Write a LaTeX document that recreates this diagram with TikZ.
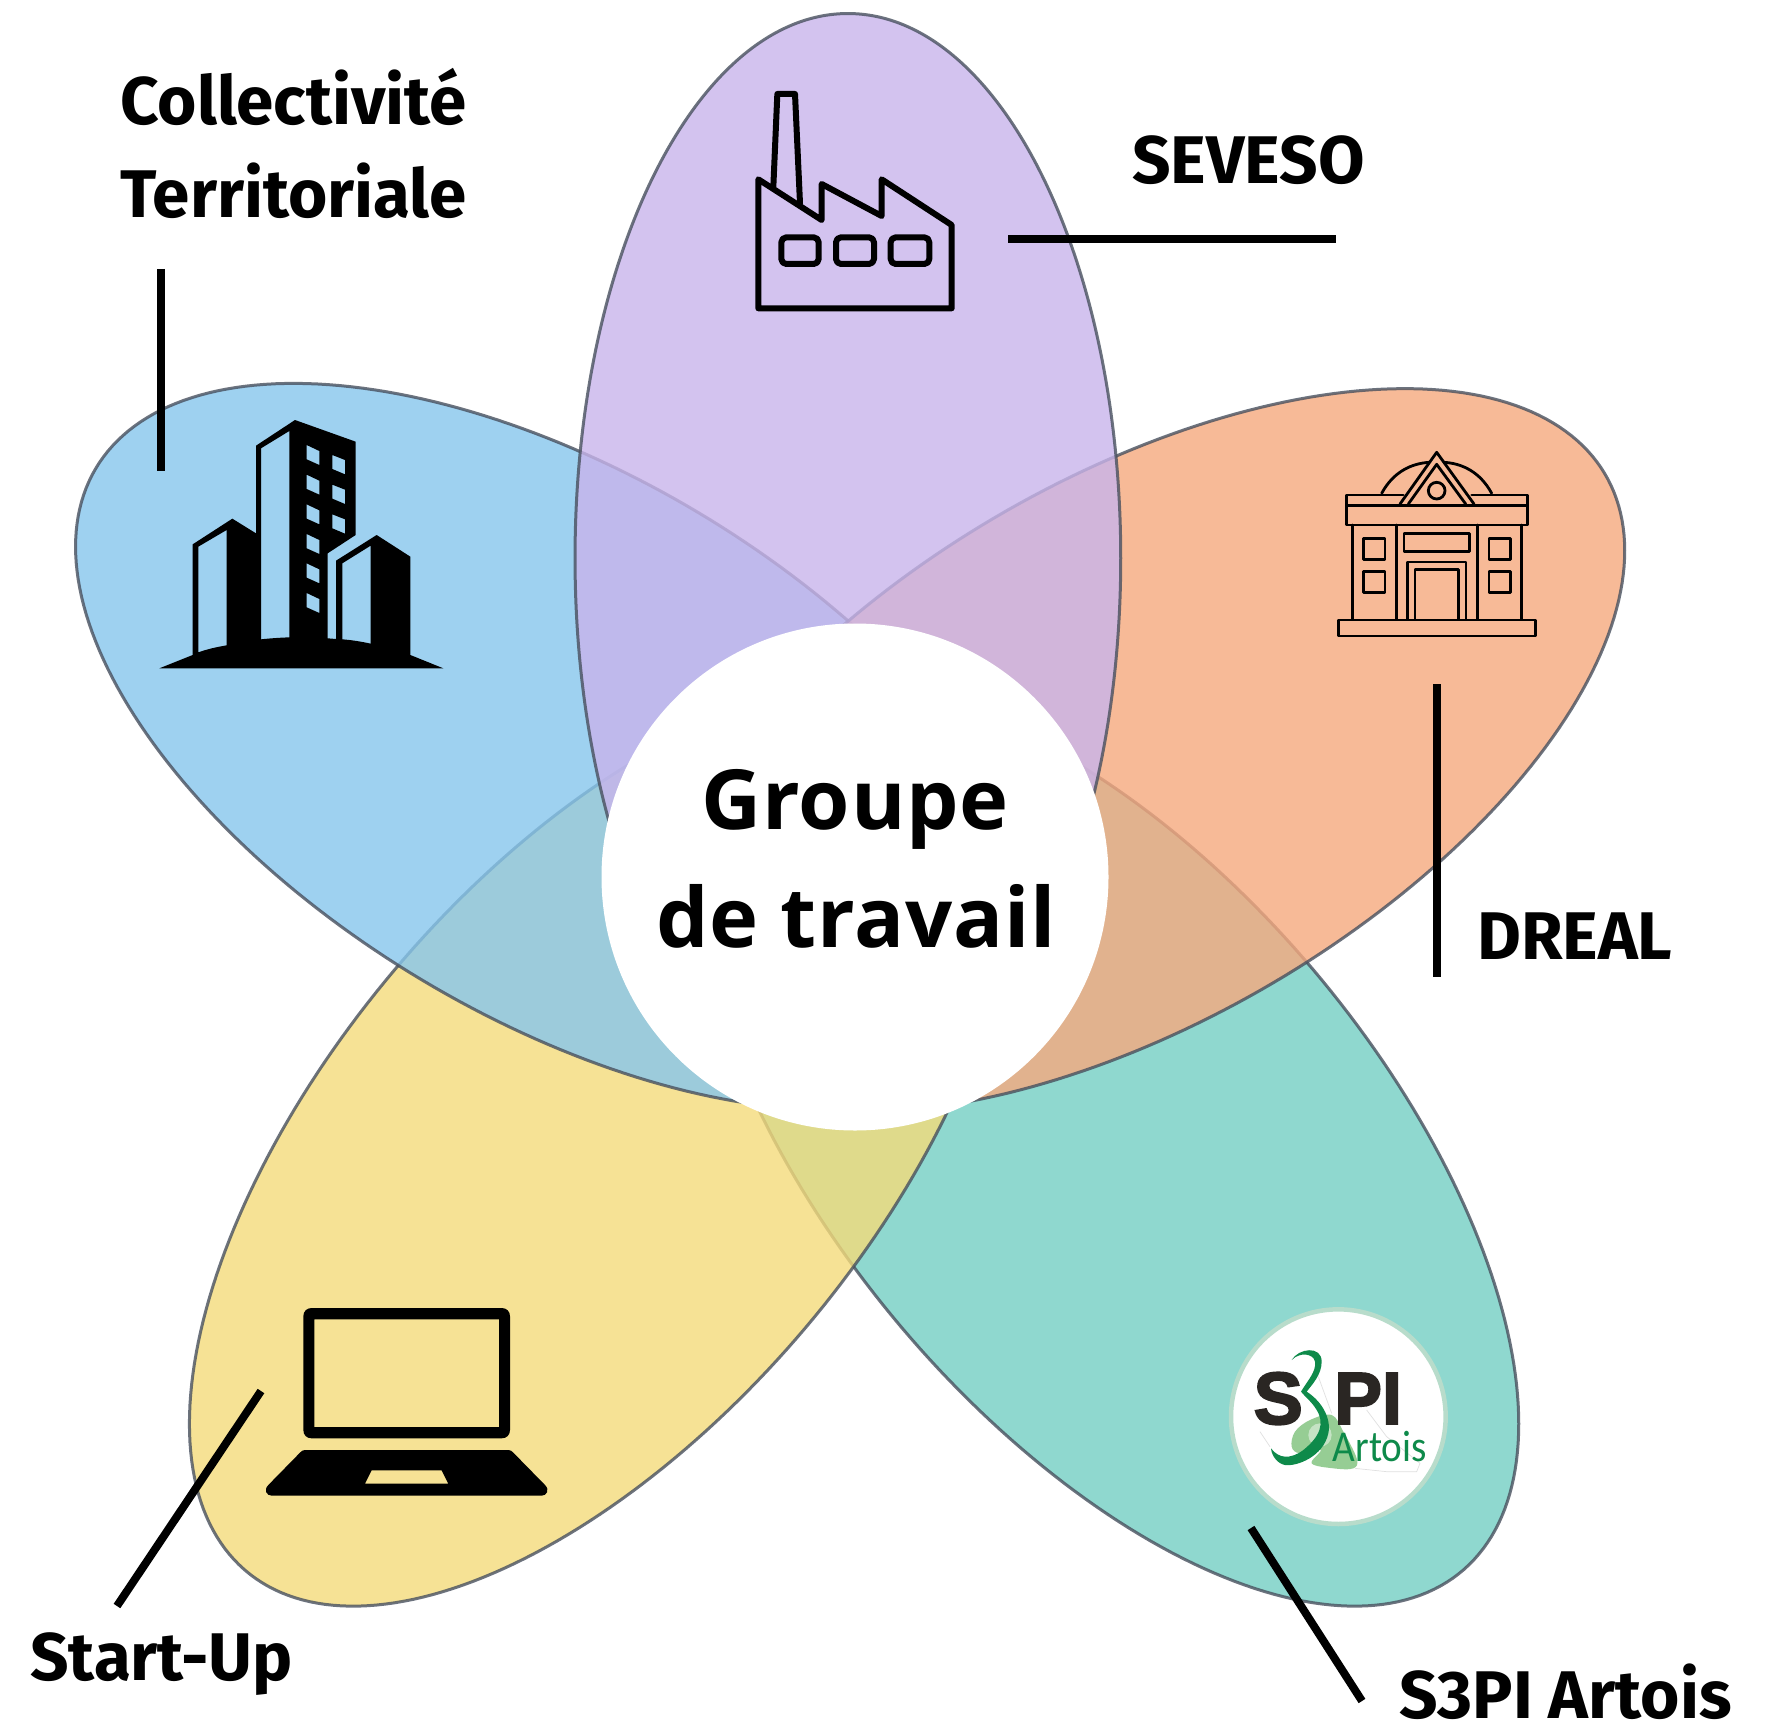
\documentclass[tikz,border=0pt]{standalone}
\usepackage{fontspec}
\usepackage{graphicx}
\newfontfamily\labelfont{Fira Sans}
\newfontfamily\titlefont{Open Sans}[LetterSpace=1]
\newfontfamily\logosans{Liberation Sans}[BoldFeatures={FakeBold=2.5}]
\newfontfamily\logoart{Carlito}
\definecolor{cblue}{RGB}{134,198,237}
\definecolor{cpurple}{RGB}{200,180,235}
\definecolor{corange}{RGB}{246,169,126}
\definecolor{cteal}{RGB}{116,207,195}
\definecolor{cyellow}{RGB}{244,219,123}
\definecolor{cedge}{RGB}{72,80,94}
\definecolor{logogreen}{RGB}{14,138,74}
\definecolor{logodark}{RGB}{42,38,35}
\definecolor{logoring}{RGB}{184,220,203}
\definecolor{logoblob}{RGB}{150,205,148}
\tikzset{
  petal/.style={fill=#1,draw=cedge,line width=3pt,fill opacity=.8,draw opacity=.8,line join=round},
  leader/.style={draw=black,line width=8pt},
  lab/.style={anchor=base west,inner sep=0pt,text depth=0pt,font=\labelfont\bfseries\fontsize{67.4}{72}\selectfont},
  ttl/.style={anchor=base west,inner sep=0pt,font=\titlefont\bfseries\fontsize{83}{90}\selectfont},
  zf/.style 2 args={shift={(#1,#2)},x=.33333pt,y=-.33333pt},
  icoline/.style={draw=black,line width=#1,line join=round,line cap=round},
}
% oblique ellipse: centre x, half width, centre y, cross term, vertical term
\newcommand{\petalshape}[5]{plot[domain=0:360,samples=241,variable=\t] ({#1+#2*cos(\t)},{#3+(#4)*cos(\t)+#5*sin(\t)}) -- cycle}
\begin{document}
\begin{tikzpicture}[x=1pt,y=-1pt]
\useasboundingbox (0,0) rectangle (1767,1720);
\fill[white] (0,0) rectangle (1767,1720);
% petals
\begin{scope}[x=1.1275pt,y=-1.1275pt]
\draw[petal=cteal] \petalshape{982}{365}{1018.5}{244.3}{324.3};
\draw[petal=cyellow] \petalshape{532.5}{364.5}{1018.5}{-244.3}{324.3};
\draw[petal=cblue] \petalshape{497}{430}{662}{177.1}{268.9};
\draw[petal=corange] \petalshape{1005.5}{435.5}{665.5}{-177.1}{267.5};
\draw[petal=cpurple] (752,495) ellipse [x radius=242,y radius=483];
\end{scope}
% centre
\node[circle,fill=white,minimum size=507pt,inner sep=0pt] (centre) at (855,877) {};
\node[ttl] (groupe) at (701,829) {Groupe};
\node[ttl] (travail) at (656,947) {de travail};
% labels
\node[lab] (collect) at (120,125) {Collectivité};
\node[lab] (territ) at (120,218) {Territoriale};
\node[lab] (seveso) at (1132,184) {SEVESO};
\node[lab] (dreal) at (1477,959) {DREAL};
\node[lab] (startup) at (30,1680) {Start-Up};
\node[lab] (s3pi) at (1399,1718) {S3PI Artois};
% leaders
\coordinate (l1a) at (161,269); \coordinate (l1b) at (161,471);
\coordinate (l2a) at (1008,239); \coordinate (l2b) at (1336,239);
\coordinate (l3a) at (1437,684); \coordinate (l3b) at (1437,977);
\coordinate (l4a) at (1251,1528); \coordinate (l4b) at (1362,1701);
\coordinate (l5a) at (261,1391); \coordinate (l5b) at (117,1606);
\draw[leader] (l1a) -- (l1b);
\draw[leader] (l2a) -- (l2b);
\draw[leader] (l3a) -- (l3b);
\draw[leader] (l4a) -- (l4b);
\draw[leader] (l5a) -- (l5b);
% factory
\begin{scope}[zf={740}{70}]
\draw[icoline=6pt] (100,350) -- (112,72) -- (165,72) -- (180,400);
\draw[icoline=6pt] (55,715) -- (55,328) -- (245,450) -- (245,342) -- (425,438) -- (425,328) -- (635,465) -- (635,715) -- cycle;
\draw[icoline=6pt,rounded corners=5pt] (124,502) rectangle (236,582);
\draw[icoline=6pt,rounded corners=5pt] (288,502) rectangle (402,582);
\draw[icoline=6pt,rounded corners=5pt] (452,502) rectangle (568,582);
\end{scope}
% city building
\begin{scope}[zf={150}{400}]
\fill[black,even odd rule]
 (128,765) -- (128,433) -- (247,356) -- (318,400) -- (318,137) -- (435,60) -- (617,125) -- (617,405) -- (533,460) -- (533,715) -- (558,717) -- (558,482) -- (680,405) -- (781,470) -- (781,765) -- (880,805) -- (28,805) -- cycle
 (145,440) -- (230,390) -- (230,736) .. controls (200,741) and (170,748) .. (145,757) -- cycle
 (333,145) -- (418,93) -- (418,712) .. controls (390,713) and (360,715) .. (333,718) -- cycle
 (577,490) -- (662,437) -- (662,731) .. controls (635,725) and (605,720) .. (577,718) -- cycle
 (470,135) -- (508,153) -- (508,195) -- (470,178) -- cycle
 (470,224) -- (508,242) -- (508,284) -- (470,267) -- cycle
 (470,313) -- (508,331) -- (508,373) -- (470,356) -- cycle
 (470,402) -- (508,420) -- (508,462) -- (470,445) -- cycle
 (470,490) -- (508,508) -- (508,550) -- (470,533) -- cycle
 (470,579) -- (508,597) -- (508,639) -- (470,622) -- cycle
 (547,165) -- (585,180) -- (585,223) -- (547,207) -- cycle
 (547,254) -- (585,269) -- (585,312) -- (547,296) -- cycle
 (547,343) -- (585,358) -- (585,401) -- (547,385) -- cycle;
\end{scope}
% prefecture building
\begin{scope}[zf={1320}{430}]
\tikzset{bline/.style={icoline=2.8pt}}
\draw[bline] (185,190) .. controls (220,125) and (275,100) .. (328,97);
\draw[bline] (515,190) .. controls (480,125) and (425,100) .. (372,97);
\draw[bline] (240,222) -- (350,67) -- (462,222);
\draw[bline] (265,222) -- (350,103) -- (437,222);
\draw[bline] (350,182) circle [radius=25];
\draw[bline] (250,195) -- (80,195) -- (80,285) -- (622,285) -- (622,195) -- (455,195);
\draw[bline] (80,226) -- (622,226);
\draw[bline] (97,285) -- (97,568);
\draw[bline] (229,285) -- (229,568);
\draw[bline] (472,285) -- (472,568);
\draw[bline] (605,285) -- (605,568);
\draw[bline] (55,570) rectangle (647,618);
\draw[bline] (131,325) rectangle (195,388);
\draw[bline] (131,424) rectangle (195,487);
\draw[bline] (507,325) rectangle (571,388);
\draw[bline] (507,424) rectangle (571,487);
\draw[bline] (252,310) rectangle (449,365);
\draw[bline] (262,568) -- (262,396) -- (438,396) -- (438,568);
\draw[bline] (285,568) -- (285,418) -- (416,418) -- (416,568);
\end{scope}
% laptop
\begin{scope}[zf={240}{1290}]
\fill[black,even odd rule] (215,54) -- (785,54) .. controls (800,54) and (810,64) .. (810,79) -- (810,420) .. controls (810,435) and (800,445) .. (785,445) -- (215,445) .. controls (200,445) and (190,435) .. (190,420) -- (190,79) .. controls (190,64) and (200,54) .. (215,54) -- cycle
 (223,88) rectangle (777,411);
\fill[black,even odd rule] (195,480) -- (805,480) .. controls (812,480) and (815,483) .. (820,488) -- (915,585) .. controls (930,600) and (920,617) .. (905,617) -- (95,617) .. controls (80,617) and (70,600) .. (85,585) -- (180,488) .. controls (185,483) and (188,480) .. (195,480) -- cycle
 (395,541) -- (605,541) -- (625,581) -- (375,581) -- cycle;
\end{scope}
% S3PI logo
\begin{scope}[zf={1200}{1250}]
\fill[white] (415,500) circle [radius=322];
\draw[logoring,line width=4.5pt] (415,500) circle [radius=322];
\draw[black!12,line width=.7pt] (180,545) -- (210,590) (465,655) -- (560,665) -- (650,665) -- (660,640) -- (560,560) -- (500,480) (290,390) -- (265,395) (355,380) -- (395,490);
\fill[logoblob] plot[smooth cycle,tension=.6] coordinates {(285,545)(330,510)(395,495)(430,545)(470,625)(460,655)(400,655)(335,640)(362,600)(300,610)(275,590)};
\fill[white,opacity=.45] (360,555) circle [radius=35];
\node[anchor=base west,inner sep=0pt,text=logodark,font=\logosans\bfseries\fontsize{74}{80}\selectfont] (logoS) at (160,522) {S};
\node[anchor=base west,inner sep=0pt,text=logodark,font=\logosans\bfseries\fontsize{74}{80}\selectfont] (logoPI) at (402,522) {\scalebox{.97}[1]{PI}};
\fill[logogreen] (275,330) .. controls (295,295) and (365,285) .. (365,335) .. controls (365,375) and (335,405) .. (320,425) .. controls (360,450) and (395,500) .. (385,550) .. controls (370,620) and (290,650) .. (255,645) .. controls (235,642) and (215,620) .. (213,595) .. controls (235,625) and (270,630) .. (310,600) .. controls (360,560) and (375,520) .. (350,480) .. controls (335,455) and (315,440) .. (303,425) .. controls (320,395) and (350,365) .. (345,335) .. controls (340,310) and (300,305) .. (275,330) -- cycle;
\node[anchor=base west,inner sep=0pt,text=logogreen,font=\logoart\fontsize{44}{48}\selectfont] (logoA) at (398,635) {\scalebox{.89}[1]{Artois}};
\end{scope}
\end{tikzpicture}
\end{document}
